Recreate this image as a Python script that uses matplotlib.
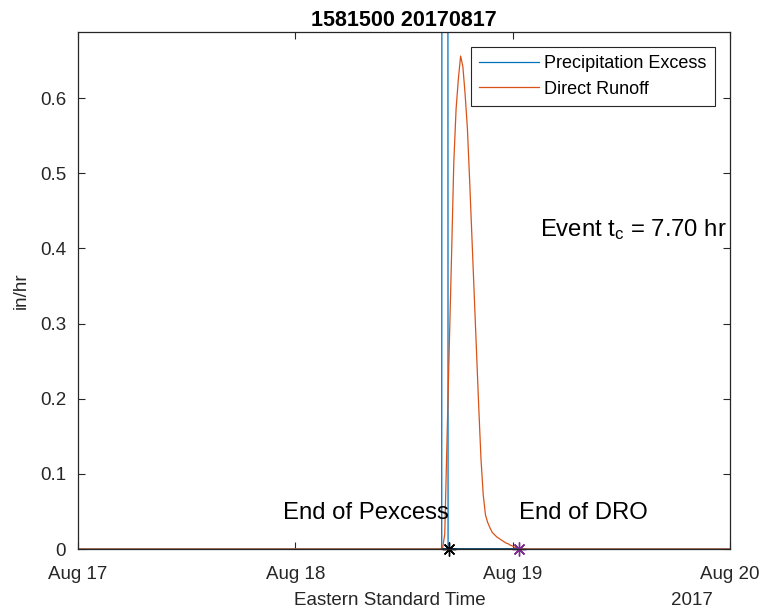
import matplotlib
matplotlib.use('Agg')
import matplotlib.pyplot as plt
import matplotlib.dates as mdates
import matplotlib.ticker as mticker
import pandas as pd

plt.rcParams['font.family'] = ['Liberation Sans', 'DejaVu Sans']
plt.rcParams['mathtext.default'] = 'regular'

# Precipitation excess (in/hr), spike runs off the top of the axes
pe_time = ['2017-08-17 00:00', '2017-08-18 16:10', '2017-08-18 16:12',
           '2017-08-18 16:50', '2017-08-18 16:52', '2017-08-20 00:00']
pe_vals = [0.0, 0.0, 1.5, 1.5, 0.0, 0.0]

# Direct runoff (in/hr), 15 min steps starting 2017-08-18 16:15
dro_start = '2017-08-18 16:15'
dro_vals = [0.0, 0.02, 0.145, 0.27, 0.39, 0.515, 0.585, 0.625, 0.656, 0.642,
            0.605, 0.56, 0.49, 0.415, 0.34, 0.265, 0.19, 0.12, 0.072, 0.045,
            0.035, 0.028, 0.022, 0.019, 0.016, 0.014, 0.012, 0.010, 0.008,
            0.007, 0.005, 0.004, 0.002, 0.001, 0.0]

end_pexcess = '2017-08-18 17:00'
end_dro = '2017-08-19 00:42'
tc_hours = 7.70
title = '1581500 20170817'

t_start = pd.Timestamp('2017-08-17 00:00')
t_end = pd.Timestamp('2017-08-20 00:00')

dro_time = pd.date_range(dro_start, periods=len(dro_vals), freq='15min')
dro_t = [t_start] + list(dro_time) + [t_end]
dro_y = [0.0] + dro_vals + [0.0]

fig = plt.figure(figsize=(7.65, 6.13), dpi=100)
ax = fig.add_axes([78 / 765, 64 / 613, 652 / 765, 517 / 613])

ax.plot(pd.to_datetime(pe_time), pe_vals, color='#0072BD', lw=0.9, label='Precipitation Excess')
ax.plot(dro_t, dro_y, color='#D95319', lw=0.9, label='Direct Runoff')

# tc segment and end markers
ax.plot(pd.to_datetime(['2017-08-18 16:10', end_dro]), [0, 0], color='#124c74', lw=2)
ax.plot(pd.Timestamp(end_pexcess), 0, marker=(8, 2, 0), color='black', ms=10, mew=1, clip_on=False)
ax.plot(pd.Timestamp(end_dro), 0, marker=(8, 2, 0), color='#7E2F8E', ms=10, mew=1, clip_on=False)

ax.text(pd.Timestamp(end_pexcess), 0.04, 'End of Pexcess', ha='right', va='baseline', fontsize=17.2)
ax.text(pd.Timestamp(end_dro), 0.04, 'End of DRO', ha='left', va='baseline', fontsize=17.2)
ax.text(pd.Timestamp('2017-08-19 03:00'), 0.416, r'Event t$_c$ = %.2f hr' % tc_hours,
        ha='left', va='baseline', fontsize=17.2)

ax.set_xlim(t_start, t_end)
ax.set_ylim(0, 0.688)
ax.xaxis.set_major_locator(mdates.DayLocator())
ax.xaxis.set_major_formatter(mdates.DateFormatter('%b %d'))
ax.yaxis.set_major_locator(mticker.MultipleLocator(0.1))
ax.yaxis.set_major_formatter(mticker.FuncFormatter(lambda v, p: '%g' % round(v, 2)))

ax.tick_params(direction='in', top=True, right=True, length=5, width=0.8,
               color='#262626', labelcolor='#262626', labelsize=13.5)
ax.tick_params(axis='x', pad=12)
ax.tick_params(axis='y', pad=8.5)
for s in ax.spines.values():
    s.set_linewidth(0.9)
    s.set_color('#262626')

ax.set_title(title, fontsize=15.5, fontweight='bold', pad=4)
ax.set_xlabel('Eastern Standard Time', fontsize=13.5, color='#262626')
ax.xaxis.set_label_coords(0.478, -0.084)
ax.set_ylabel('in/hr', fontsize=13.5, color='#262626')
ax.yaxis.set_label_coords(-0.074, 0.5)
ax.text(0.974, -0.084, '2017', transform=ax.transAxes, ha='right', va='top',
        fontsize=13.5, color='#262626')

leg = ax.legend(loc='upper right', fontsize=13, fancybox=False, framealpha=1,
                edgecolor='#262626', borderaxespad=0.85, handlelength=3.3,
                handletextpad=0.3, labelspacing=0.45, borderpad=0.45)
leg.get_frame().set_linewidth(0.8)

fig.savefig('out.png', dpi=100)
